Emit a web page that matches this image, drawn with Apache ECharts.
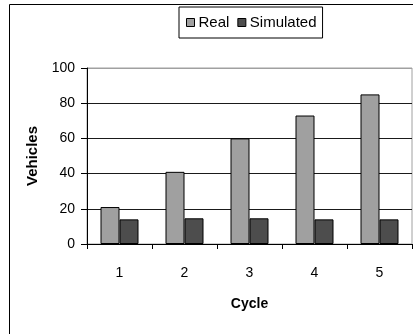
<!DOCTYPE html>
<html><head><meta charset="utf-8">
<script src="https://cdn.jsdelivr.net/npm/echarts@6/dist/echarts.min.js"></script>
<style>html,body{margin:0;padding:0;background:#fff}#c{width:413px;height:334px}</style>
</head><body><div id="c"></div>
<script>
const categories = ['1','2','3','4','5'];
const realValues = [21, 41, 60, 73, 85];
const simulatedValues = [14, 14.6, 14.6, 14, 14];
const yTicks = [0, 20, 40, 60, 80, 100];

const chart = echarts.init(document.getElementById('c'), null, {renderer:'canvas'});
const font = 'Liberation Sans';
chart.setOption({
  animation: false,
  backgroundColor: '#fff',
  graphic: [{type:'rect', shape:{x:9.5, y:4.5, width:600, height:600}, style:{fill:'none', stroke:'#000', lineWidth:1}, z:100}],
  legend: {
    left: 179, top: 7, orient: 'horizontal',
    padding: [8, 6, 8, 7],
    borderColor: '#000', borderWidth: 1,
    icon: 'rect',
    itemWidth: 8, itemHeight: 8, itemGap: 8,
    itemStyle: {borderColor: '#000', borderWidth: 1},
    textStyle: {fontFamily: font, fontSize: 15, color: '#000', padding:[0,0,0,-1]},
    data: ['Real', 'Simulated']
  },
  grid: {left: 87, right: 1, top: 68, bottom: 90, show: true, borderColor: '#a0a0a0', borderWidth: 1},
  xAxis: {
    type: 'category', data: categories,
    name: 'Cycle', nameLocation: 'middle', nameGap: 53,
    nameTextStyle: {fontFamily: font, fontSize: 14, fontWeight: 'bold', color: '#000'},
    axisLine: {show: true, lineStyle: {color: '#000', width: 1}},
    axisTick: {show: true, length: 5, lineStyle: {color: '#000'}},
    axisLabel: {fontFamily: font, fontSize: 14, color: '#000', margin: 22}
  },
  yAxis: {
    type: 'value', min: yTicks[0], max: yTicks[yTicks.length-1], interval: 20,
    name: 'Vehicles', nameLocation: 'middle', nameGap: 42,
    nameTextStyle: {fontFamily: font, fontSize: 15, fontWeight: 'bold', color: '#000'},
    axisLine: {show: true, lineStyle: {color: '#000', width: 1}},
    axisTick: {show: true, length: 6, lineStyle: {color: '#000'}},
    axisLabel: {fontFamily: font, fontSize: 14, color: '#000', margin: 12},
    splitLine: {show: true, lineStyle: {color: ['#000','#1a1a1a','#1a1a1a','#1a1a1a','#1a1a1a','#a0a0a0'], width: 1}}
  },
  series: [
    {name: 'Real', type: 'bar', data: realValues, barWidth: 19, barGap: '0%',
     itemStyle: {color: '#a0a0a0', borderColor: '#000', borderWidth: 1}},
    {name: 'Simulated', type: 'bar', data: simulatedValues, barWidth: 19, barGap: '0%',
     itemStyle: {color: '#4d4d4d', borderColor: '#000', borderWidth: 1}}
  ]
});
</script></body></html>
